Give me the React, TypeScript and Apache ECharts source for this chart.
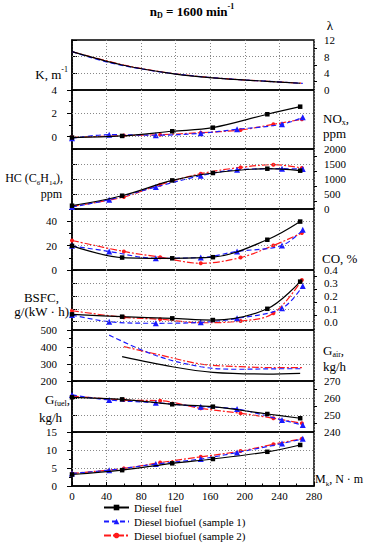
import React, { useEffect, useRef } from 'react';
import * as echarts from 'echarts';

const FONT = 'Liberation Serif';

const fuelNames = ['Diesel fuel', 'Diesel biofuel (sample 1)', 'Diesel biofuel (sample 2)'];

// Torque of the measured points, N·m
const dieselX = [0, 58, 116, 163, 226, 264];
const bio1X = [0, 43, 97, 149, 191, 243, 267];
const bio2X = [0, 60, 102, 149, 195, 233, 266];

// Panel 1 – K / λ
const kDiesel = [9.2, 6.0, 3.95, 2.92, 2.09, 1.62];
const kBio1 = [9.2, 6.6, 4.5, 3.2, 2.52, 1.9, 1.58];
const kBio2 = [9.2, 6.0, 4.4, 3.2, 2.47, 2.0, 1.62];

// Panel 2 – NOx
const noxDiesel = [-0.08, 0.06, 0.46, 0.77, 1.92, 2.57];
const noxBio1 = [-0.14, 0.17, 0.12, 0.29, 0.63, 1.06, 1.66];
const noxBio2 = [-0.06, 0.09, 0.17, 0.34, 0.57, 1.06, 1.49];

// Panel 3 – HC
const hcDiesel = [110, 443, 953, 1200, 1343, 1277];
const hcBio1 = [67, 310, 733, 1110, 1310, 1343, 1333];
const hcBio2 = [87, 400, 810, 1177, 1387, 1477, 1367];

// Panel 4
const p4Diesel = [19.8, 10.2, 9.6, 10.5, 24.8, 39.7];
const p4Bio1 = [19.8, 15.2, 9.6, 10.2, 15.2, 20.1, 33];
const p4Bio2 = [24.2, 15.2, 10.5, 5.5, 10.2, 20.1, 30.3];

// Panel 5 – CO
const coDiesel = [0.057, 0.039, 0.026, 0.013, 0.1, 0.31];
const coBio1 = [0.052, 0.0, -0.012, -0.005, 0.026, 0.104, 0.277];
const coBio2 = [0.085, 0.034, 0.019, -0.008, 0.005, 0.065, 0.323];

// Panel 6 – Gair
const airDiesel = [null, 343, 284, 251, 241, 245];
const airBio1 = [null, 470, 350, 284, 269, 272, 272];
const airBio2 = [null, 402, 353, 300, 284, 279, 279];

// Panel 7 – Gfuel
const fuelDiesel = [260.4, 259.2, 256.3, 254.9, 250.6, 248.1];
const fuelBio1 = [261.8, 258.8, 257.2, 254.9, 253.5, 247.1, 244.1];
const fuelBio2 = [261.2, 258.8, 258.4, 253.9, 251.0, 248.1, 245.1];

// Panel 8
const p8Diesel = [3.2, 4.4, 6.3, 7.5, 9.5, 11.4];
const p8Bio1 = [3.5, 4.4, 6.1, 7.5, 9.3, 11.8, 13.1];
const p8Bio2 = [3.5, 4.9, 6.5, 8.1, 9.7, 11.6, 13.1];

// Tick labels
const lambdaTicks = [0, 4, 8, 12];
const lambdaMinor = [2, 6, 10];
const noxTicks = [0, 2, 4];
const noxMinor = [1, 3];
const hcTicks = [0, 500, 1000, 1500, 2000];
const hcMinor = [250, 750, 1250, 1750];
const p4Ticks = [0, 20, 40];
const p4Minor = [10, 30, 50];
const coTicks = [0, 0.1, 0.2, 0.3, 0.4];
const coMinor = [0.05, 0.15, 0.25, 0.35];
const airTicks = [200, 300, 400, 500];
const airMinor = [250, 350, 450];
const gfTicks = [240, 250, 260, 270];
const gfMinor = [245, 255, 265];
const p8Ticks = [0, 5, 10, 15];
const p8Minor = [2.5, 7.5, 12.5];

const panels = [
  { top: 40, height: 50, side: 'right', min: 0, max: 12, ticks: lambdaTicks, minor: lambdaMinor, splits: [4, 8], data: [kDiesel, kBio1, kBio2], marks: false },
  { top: 90, height: 59, side: 'left', min: -1.06, max: 4, ticks: noxTicks, minor: noxMinor, splits: [0, 2], data: [noxDiesel, noxBio1, noxBio2], marks: true },
  { top: 149, height: 60, side: 'right', min: 0, max: 2000, ticks: hcTicks, minor: hcMinor, splits: [500, 1000, 1500], data: [hcDiesel, hcBio1, hcBio2], marks: true },
  { top: 209, height: 61, side: 'left', min: 0, max: 50, ticks: p4Ticks, minor: p4Minor, splits: [20, 40], data: [p4Diesel, p4Bio1, p4Bio2], marks: true },
  { top: 270, height: 60, side: 'right', min: -0.064, max: 0.4, ticks: coTicks, minor: coMinor, splits: [0, 0.1, 0.2, 0.3], data: [coDiesel, coBio1, coBio2], marks: true, dec: 1 },
  { top: 330, height: 51, side: 'left', min: 200, max: 500, ticks: airTicks, minor: airMinor, splits: [300, 400], data: [airDiesel, airBio1, airBio2], marks: false },
  { top: 381, height: 51, side: 'right', min: 240, max: 270, ticks: gfTicks, minor: gfMinor, splits: [250, 260], data: [fuelDiesel, fuelBio1, fuelBio2], marks: true },
  { top: 432, height: 54, side: 'left', min: 0, max: 15, ticks: p8Ticks, minor: p8Minor, splits: [5, 10], data: [p8Diesel, p8Bio1, p8Bio2], marks: true },
];

const fuelStyles = [
  { color: '#000000', type: 'solid' as any, symbol: 'rect', size: 4.5, xs: dieselX },
  { color: '#1a1aff', type: [5, 3] as any, symbol: 'triangle', size: 6, xs: bio1X },
  { color: '#ff1a1a', type: [7, 2, 2, 2] as any, symbol: 'circle', size: 4, xs: bio2X },
];

function richLabel(x: number, y: number, text: string, align: string, size = 13, bold = false) {
  const fw = bold ? 'bold' : 'normal';
  const small = Math.round(size * 0.62);
  return {
    type: 'text',
    x,
    y,
    silent: true,
    style: {
      text,
      fill: '#000',
      fontFamily: FONT,
      fontSize: size,
      fontWeight: fw,
      lineHeight: size + 4,
      textAlign: align,
      textVerticalAlign: 'middle',
      rich: {
        n: { fontFamily: FONT, fontSize: size, fontWeight: fw, lineHeight: size + 4, fill: '#000' },
        sub: { fontFamily: FONT, fontSize: small, fontWeight: fw, verticalAlign: 'bottom', fill: '#000' },
        sup: { fontFamily: FONT, fontSize: small, fontWeight: fw, verticalAlign: 'top', fill: '#000' },
      },
    },
  };
}

function buildOption() {
  const series: any[] = [];
  panels.forEach((p, i) => {
    p.data.forEach((vals: any[], f: number) => {
      const st = fuelStyles[f];
      series.push({
        type: 'line',
        name: fuelNames[f],
        xAxisIndex: i,
        yAxisIndex: 2 * i,
        data: vals.map((v, k) => [st.xs[k], v]).filter((d) => d[1] !== null),
        smooth: 0.35,
        symbol: st.symbol,
        symbolSize: st.size,
        showSymbol: p.marks,
        lineStyle: { color: st.color, width: 1.2, type: st.type },
        itemStyle: { color: st.color },
        z: 5 - f,
        markLine:
          f === 0
            ? {
                silent: true,
                symbol: ['none', 'none'],
                label: { show: false },
                lineStyle: { color: '#888', type: [1, 2], width: 1 },
                data: p.splits.map((v) => ({ yAxis: v })),
              }
            : undefined,
      });
    });
  });

  const labelStyle = { color: '#000', fontFamily: FONT, fontSize: 11 };

  return {
    animation: false,
    backgroundColor: '#ffffff',
    textStyle: { fontFamily: FONT },
    grid: panels.map((p) => ({
      left: 72,
      width: 242,
      top: p.top,
      height: p.height,
      show: true,
      borderColor: '#000',
      borderWidth: 1.5,
      backgroundColor: 'transparent',
    })),
    xAxis: panels.map((p, i) => {
      const last = i === panels.length - 1;
      return {
        type: 'value',
        gridIndex: i,
        min: 0,
        max: 280,
        interval: 40,
        axisLine: { show: last, lineStyle: { color: '#000', width: 1.5 } },
        axisTick: { show: last, inside: true, length: 4, lineStyle: { color: '#000' } },
        minorTick: { show: last, splitNumber: 2, length: 2.5, lineStyle: { color: '#000' } },
        axisLabel: { show: last, margin: 4, ...labelStyle },
        splitLine: { show: true, lineStyle: { color: '#888', type: [1, 2], width: 1 } },
      };
    }),
    yAxis: panels.flatMap((p: any, i) => [
      {
        type: 'value',
        gridIndex: i,
        position: p.side,
        min: p.min,
        max: p.max,
        axisLine: { show: true, lineStyle: { color: '#000', width: 1.5 } },
        axisTick: { show: true, length: 5, customValues: p.ticks, lineStyle: { color: '#000', width: 1 } },
        axisLabel: {
          customValues: p.ticks,
          margin: p.side === 'left' ? 15 : 10,
          ...labelStyle,
          formatter: (v: number) => (p.dec ? v.toFixed(p.dec) : String(v)),
        },
        splitLine: { show: false },
      },
      {
        type: 'value',
        gridIndex: i,
        position: p.side,
        min: p.min,
        max: p.max,
        axisLine: { show: false },
        axisTick: { show: true, length: 3, customValues: p.minor, lineStyle: { color: '#000', width: 1 } },
        axisLabel: { show: false },
        splitLine: { show: false },
      },
    ]),
    legend: {
      orient: 'vertical',
      left: 103,
      top: 502,
      padding: 0,
      itemWidth: 25,
      itemHeight: 7,
      itemGap: 3,
      selectedMode: false,
      data: fuelNames,
      textStyle: { color: '#000', fontFamily: FONT, fontSize: 11 },
    },
    graphic: [
      richLabel(192, 11, '{n|n}{sub|D}{n| = 1600 min}{sup|-1}', 'center', 13, true),
      richLabel(330, 25, 'λ', 'center', 13),
      richLabel(68, 74, '{n|K, m}{sup|-1}', 'right'),
      richLabel(323, 118, '{n|NO}{sub|x}{n|,}', 'left'),
      richLabel(323, 133, 'ppm', 'left'),
      richLabel(63, 178, '{n|HC (C}{sub|6}{n|H}{sub|14}{n|),}', 'right', 12),
      richLabel(62, 194, 'ppm', 'right', 12),
      richLabel(322, 258, 'CO, %', 'left'),
      richLabel(59, 297, 'BSFC,', 'right'),
      richLabel(69, 311, 'g/(kW · h)', 'right'),
      richLabel(323, 350, '{n|G}{sub|air}{n|,}', 'left'),
      richLabel(323, 366, 'kg/h', 'left'),
      richLabel(70, 399, '{n|G}{sub|fuel}{n|,}', 'right'),
      richLabel(62, 417, 'kg/h', 'right'),
      richLabel(315, 479, '{n|M}{sub|k}{n|, N · m}', 'left', 12),
    ],
    series,
  };
}

export default function App() {
  const ref = useRef<HTMLDivElement>(null);
  useEffect(() => {
    document.body.style.margin = '0';
    const chart = echarts.init(ref.current as HTMLDivElement, undefined, { renderer: 'svg' });
    chart.setOption(buildOption() as any);
    return () => chart.dispose();
  }, []);
  return <div ref={ref} style={{ width: 365, height: 550, background: '#fff' }} />;
}
